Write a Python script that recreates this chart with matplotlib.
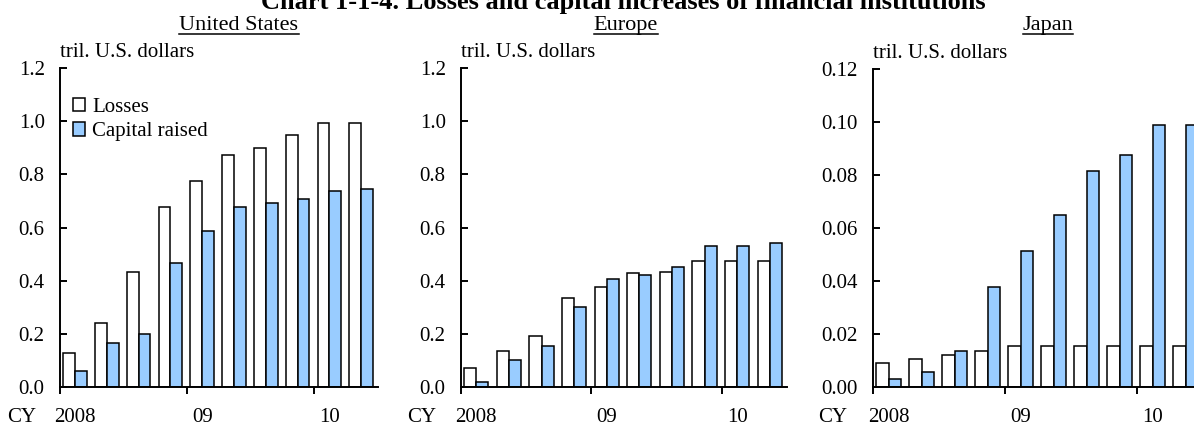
import matplotlib.pyplot as plt
import numpy as np
from matplotlib.lines import Line2D

plt.rcParams['font.family'] = ['Liberation Serif', 'DejaVu Serif']

# quarters 2008Q1 .. 2010Q2
us_losses = [0.127, 0.24, 0.434, 0.676, 0.775, 0.873, 0.90, 0.949, 0.993, 0.993]
us_capital = [0.06, 0.165, 0.20, 0.465, 0.587, 0.676, 0.691, 0.707, 0.739, 0.744]
eu_losses = [0.073, 0.134, 0.193, 0.336, 0.375, 0.428, 0.434, 0.473, 0.473, 0.473]
eu_capital = [0.02, 0.103, 0.154, 0.30, 0.405, 0.42, 0.45, 0.532, 0.532, 0.54]
jp_losses = [0.0089, 0.0105, 0.012, 0.0135, 0.0156, 0.0156, 0.0156, 0.0156, 0.0156, 0.0156]
jp_capital = [0.0029, 0.0058, 0.0135, 0.0378, 0.0512, 0.0648, 0.0815, 0.0875, 0.0987, 0.0987]

year_labels = ['2008', '09', '10']
regions = ['United States', 'Europe', 'Japan']

W, H = 1194, 425
fig = plt.figure(figsize=(W / 100, H / 100), dpi=100)

panels = [
    (regions[0], us_losses, us_capital, 1.2, 0.2, '%.1f', (60, 378, 68)),
    (regions[1], eu_losses, eu_capital, 1.2, 0.2, '%.1f', (461, 787, 68)),
    (regions[2], jp_losses, jp_capital, 0.12, 0.02, '%.2f', (873, 1203, 69)),
]
sub_x = [239, 626, 1048]
blue = '#99CCFF'
fs = 15

subtitles = []
for k, (name, losses, capital, ymax, step, fmt, (x0, x1, ytop)) in enumerate(panels):
    bottom = 387
    ax = fig.add_axes([x0 / W, 1 - bottom / H, (x1 - x0) / W, (bottom - ytop) / H])
    x = np.arange(len(losses))
    ax.bar(x + 0.285, losses, width=0.37, color='white', edgecolor='black', linewidth=1.1,
           label='Losses')
    ax.bar(x + 0.655, capital, width=0.37, color=blue, edgecolor='black', linewidth=1.1,
           label='Capital raised')
    ax.set_xlim(0, 10)
    ax.set_ylim(0, ymax)
    ticks = np.arange(0, ymax + step / 2, step)
    ax.set_yticks(ticks)
    ax.set_yticklabels([fmt % v for v in ticks])
    ax.set_xticks([0, 4, 8])
    ax.set_xticklabels([])
    ax.tick_params(axis='y', direction='in', length=5, width=1.4, labelsize=fs, pad=11)
    ax.tick_params(axis='x', direction='out', length=5, width=1.4)
    for s in ['top', 'right']:
        ax.spines[s].set_visible(False)
    for s in ['left', 'bottom']:
        ax.spines[s].set_linewidth(1.4)
    ylab = -(422 - bottom) / (bottom - ytop)
    for i, lab in enumerate(year_labels):
        ax.text(i * 4 + 0.47, ylab, lab, transform=ax.get_xaxis_transform(),
                ha='center', va='baseline', fontsize=fs, clip_on=False)
    ax.text(-1.22, ylab, 'CY', transform=ax.get_xaxis_transform(),
            ha='center', va='baseline', fontsize=fs, clip_on=False)
    ax.text(0, 1.035, 'tril. U.S. dollars', transform=ax.transAxes,
            ha='left', va='baseline', fontsize=fs)
    t = fig.text(sub_x[k] / W, 1 - 30 / H, name, ha='center', va='baseline', fontsize=16)
    subtitles.append(t)
    if k == 0:
        ax.legend(loc='upper left', bbox_to_anchor=(0.0, 0.945), frameon=False, fontsize=fs,
                  handlelength=0.6, handleheight=0.6, handletextpad=0.35,
                  labelspacing=0.25, borderaxespad=0.2)

fig.text(623 / W, 1 - 9 / H,
         'Chart 1-1-4. Losses and capital increases of financial institutions',
         ha='center', va='baseline', fontsize=19, fontweight='bold')

# underline region names
fig.canvas.draw()
r = fig.canvas.get_renderer()
for t in subtitles:
    bb = t.get_window_extent(r)
    yy = 1 - 33.5 / H
    fig.add_artist(Line2D([bb.x0 / W, bb.x1 / W], [yy, yy], color='black', linewidth=1.1,
                          transform=fig.transFigure))

fig.savefig('out.png', dpi=100)
